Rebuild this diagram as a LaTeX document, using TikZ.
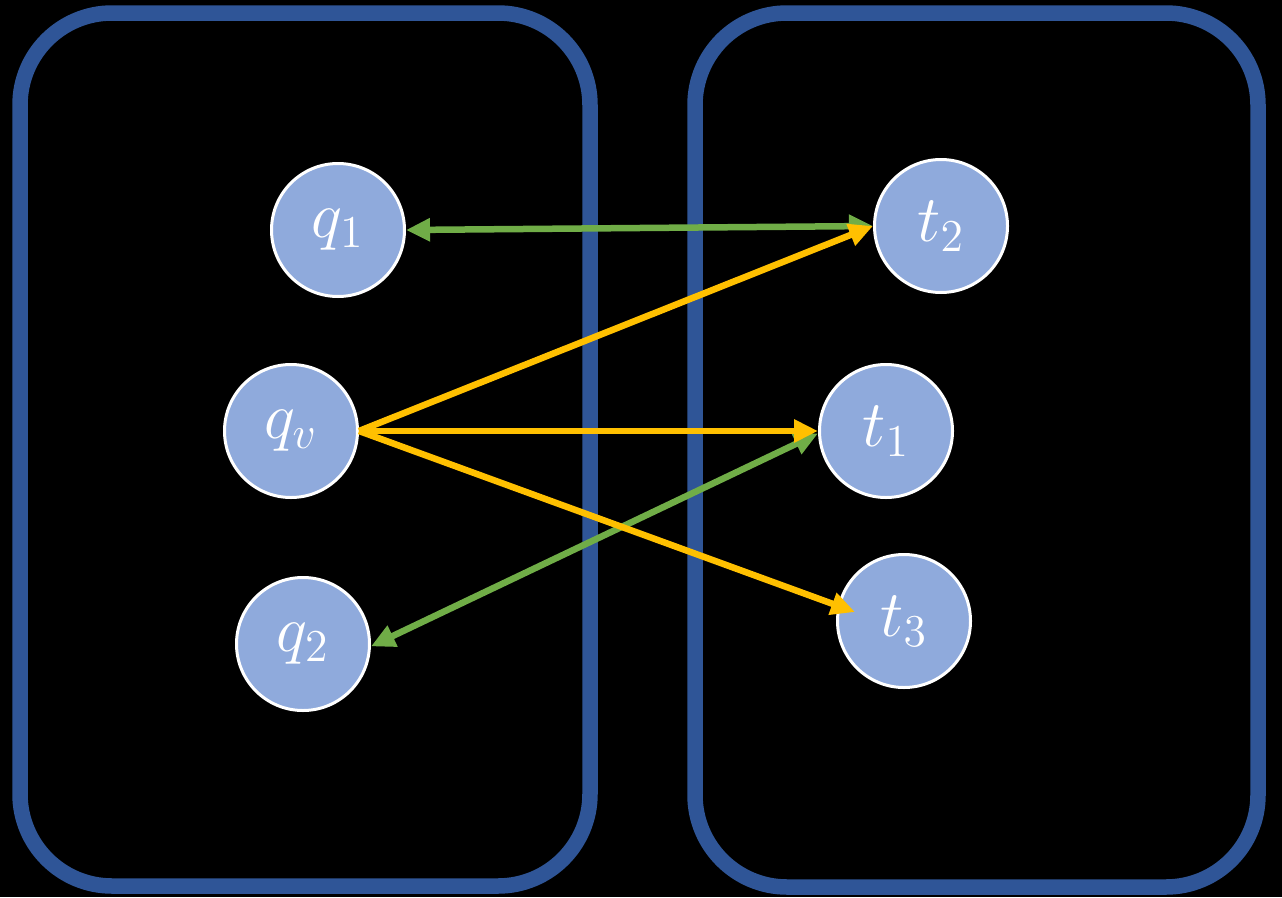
\documentclass[tikz,border=0pt]{standalone}
\usepackage{graphicx}
\usetikzlibrary{arrows.meta}
\definecolor{boxblue}{HTML}{2F5597}
\definecolor{nodefill}{HTML}{8FAADC}
\definecolor{arrgreen}{HTML}{70AD47}
\definecolor{arryellow}{HTML}{FFC000}
\newcommand{\biglab}[1]{\raisebox{-6pt}{\scalebox{3.8}{\LARGE$#1$}}}
\begin{document}
\begin{tikzpicture}[x=1pt,y=-1pt,
  panel/.style={draw=boxblue,line width=15.5pt,rounded corners=92pt},
  vert/.style={circle,draw=white,line width=3pt,fill=nodefill,minimum size=133pt,inner sep=0pt,
    text=white},
  garrow/.style={draw=arrgreen,line width=6.5pt,{Triangle[length=24pt,width=22pt]}-{Triangle[length=24pt,width=22pt]}},
  yarrow/.style={draw=arryellow,line width=6.5pt,-{Triangle[length=24pt,width=22pt]}}]
\fill[black] (0,0) rectangle (1282,897);
\useasboundingbox (0,0) rectangle (1282,897);
\draw[panel] (20,13) rectangle (590,886);
\draw[panel] (695,13) rectangle (1258,887);
\node[vert] (q1) at (338,230) {\biglab{q_1}};
\node[vert] (qv) at (291,431) {\biglab{q_v}};
\node[vert] (q2) at (303,644) {\biglab{q_2}};
\node[vert] (t2) at (941,226) {\biglab{t_2}};
\node[vert] (t1) at (886,431) {\biglab{t_1}};
\node[vert] (t3) at (904,621) {\biglab{t_3}};
\coordinate (t3tip) at (855,612);
\draw[garrow] (q1.east) -- (t2.west);
\draw[garrow] (t1.182) -- (q2.358);
\draw[yarrow] (qv.east) -- (t2.west);
\draw[yarrow] (qv.east) -- (t1.west);
\draw[yarrow] (qv.east) -- (t3tip);
\end{tikzpicture}
\end{document}
